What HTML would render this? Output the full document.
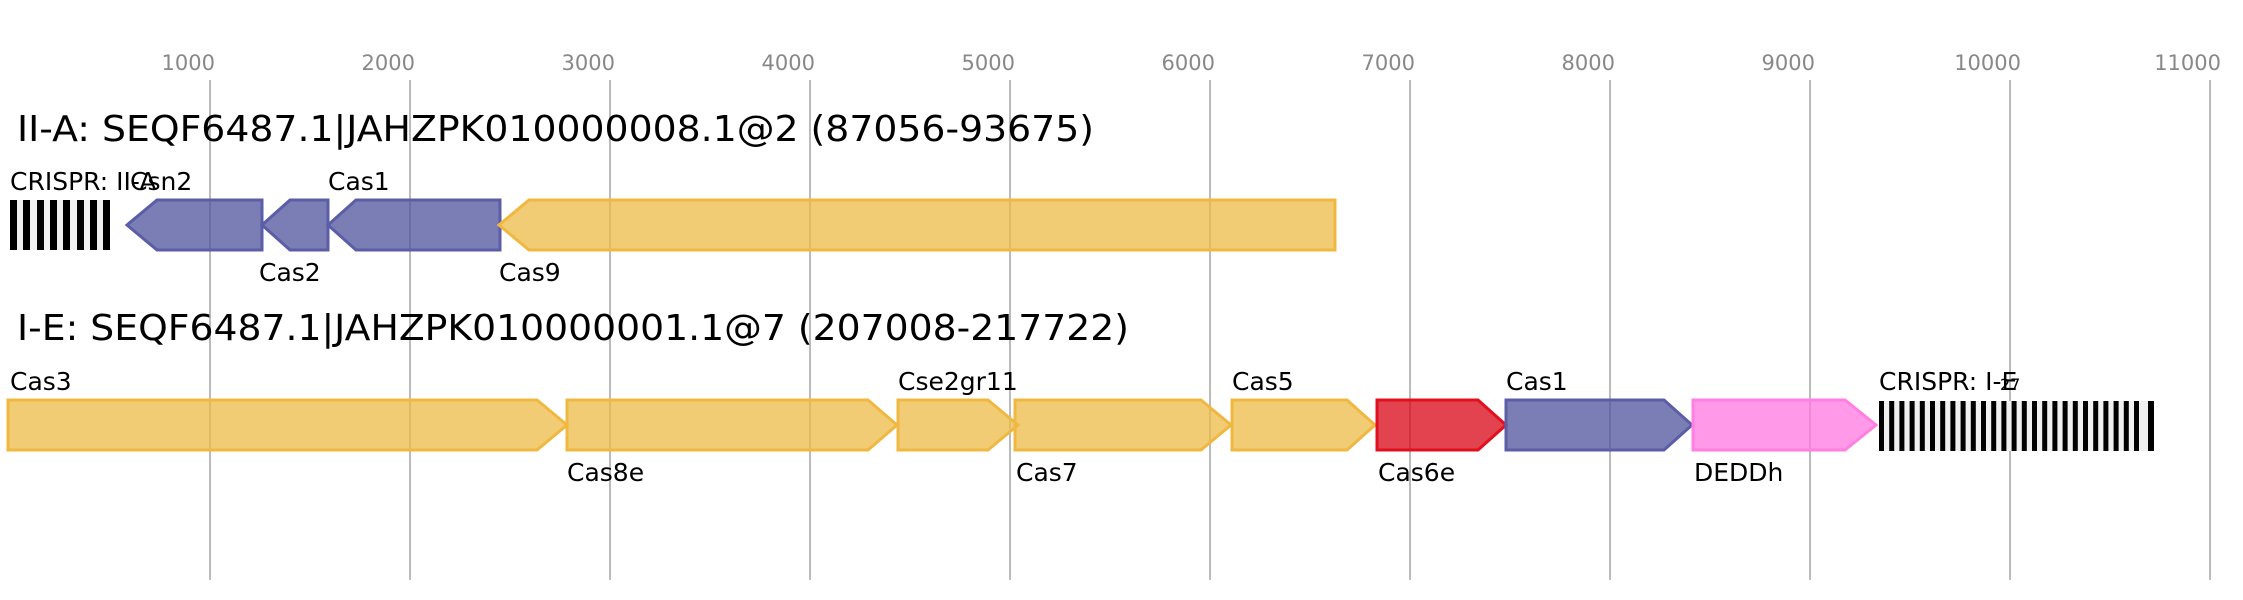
<!DOCTYPE html>
<html><head><meta charset="utf-8"><style>html,body{margin:0;padding:0;background:#fff}svg{display:block}</style></head>
<body>
<svg width="2243" height="600" viewBox="0 0 2243 600" xmlns="http://www.w3.org/2000/svg" font-family="'DejaVu Sans','Liberation Sans',sans-serif">
<g stroke="#bbb" stroke-width="2">
<line x1="210" y1="80" x2="210" y2="580"/><line x1="410" y1="80" x2="410" y2="580"/><line x1="610" y1="80" x2="610" y2="580"/><line x1="810" y1="80" x2="810" y2="580"/><line x1="1010" y1="80" x2="1010" y2="580"/><line x1="1210" y1="80" x2="1210" y2="580"/><line x1="1410" y1="80" x2="1410" y2="580"/><line x1="1610" y1="80" x2="1610" y2="580"/><line x1="1810" y1="80" x2="1810" y2="580"/><line x1="2010" y1="80" x2="2010" y2="580"/><line x1="2210" y1="80" x2="2210" y2="580"/>
</g>
<g fill="#888" font-size="21" text-anchor="end">
<text x="215" y="70">1000</text><text x="415" y="70">2000</text><text x="615" y="70">3000</text><text x="815" y="70">4000</text><text x="1015" y="70">5000</text><text x="1215" y="70">6000</text><text x="1415" y="70">7000</text><text x="1615" y="70">8000</text><text x="1815" y="70">9000</text><text x="2021" y="70">10000</text><text x="2221" y="70">11000</text>
</g>
<text x="17" y="141" font-size="36" textLength="1077" lengthAdjust="spacingAndGlyphs">II-A: SEQF6487.1|JAHZPK010000008.1@2 (87056-93675)</text>
<text x="17" y="340" font-size="36" textLength="1112" lengthAdjust="spacingAndGlyphs">I-E: SEQF6487.1|JAHZPK010000001.1@7 (207008-217722)</text>

<rect x="10" y="200" width="100" height="50" fill="#f0f0f0"/>
<g fill="#000">
<rect x="10" y="200" width="7" height="50"/><rect x="23" y="200" width="7" height="50"/><rect x="37" y="200" width="7" height="50"/><rect x="50" y="200" width="7" height="50"/><rect x="63" y="200" width="7" height="50"/><rect x="77" y="200" width="7" height="50"/><rect x="90" y="200" width="7" height="50"/><rect x="103" y="200" width="7" height="50"/>
</g>

<g stroke-width="3">
<polygon points="127,225 157,200 262,200 262,250 157,250" fill="#4f519c" fill-opacity="0.75" stroke="#5b5ea6"/>
<polygon points="262,225 290,200 328,200 328,250 290,250" fill="#4f519c" fill-opacity="0.75" stroke="#5b5ea6"/>
<polygon points="328,225 356,200 500,200 500,250 356,250" fill="#4f519c" fill-opacity="0.75" stroke="#5b5ea6"/>
<polygon points="499,225 529,200 1335,200 1335,250 529,250" fill="#ecbb45" fill-opacity="0.75" stroke="#f0b840"/>

<polygon points="8,400 537,400 567,425 537,450 8,450" fill="#ecbb45" fill-opacity="0.75" stroke="#f0b840"/>
<polygon points="567,400 868,400 897,425 868,450 567,450" fill="#ecbb45" fill-opacity="0.75" stroke="#f0b840"/>
<polygon points="898,400 988,400 1018,425 988,450 898,450" fill="#ecbb45" fill-opacity="0.75" stroke="#f0b840"/>
<polygon points="1015,400 1201,400 1231,425 1201,450 1015,450" fill="#ecbb45" fill-opacity="0.75" stroke="#f0b840"/>
<polygon points="1232,400 1347,400 1375,425 1347,450 1232,450" fill="#ecbb45" fill-opacity="0.75" stroke="#f0b840"/>
<polygon points="1377,400 1478,400 1506,425 1478,450 1377,450" fill="#d90414" fill-opacity="0.75" stroke="#e0101e"/>
<polygon points="1506,400 1664,400 1692,425 1664,450 1506,450" fill="#4f519c" fill-opacity="0.75" stroke="#5b5ea6"/>
<polygon points="1693,400 1845,400 1876,425 1845,450 1693,450" fill="#ff77e0" fill-opacity="0.75" stroke="#ff80e0"/>
</g>

<rect x="1879" y="401" width="275" height="50" fill="#f0f0f0"/>
<g fill="#000">
<rect x="1879" y="401" width="5" height="50"/><rect x="1889.2" y="401" width="5" height="50"/><rect x="1899.4" y="401" width="5" height="50"/><rect x="1909.6" y="401" width="5" height="50"/><rect x="1919.8" y="401" width="5" height="50"/><rect x="1930" y="401" width="5" height="50"/><rect x="1940.2" y="401" width="5" height="50"/><rect x="1950.4" y="401" width="5" height="50"/><rect x="1960.6" y="401" width="5" height="50"/><rect x="1970.8" y="401" width="5" height="50"/><rect x="1981" y="401" width="5" height="50"/><rect x="1991.2" y="401" width="5" height="50"/><rect x="2001.4" y="401" width="5" height="50"/><rect x="2011.6" y="401" width="5" height="50"/><rect x="2021.8" y="401" width="5" height="50"/><rect x="2032" y="401" width="5" height="50"/><rect x="2042.2" y="401" width="5" height="50"/><rect x="2052.4" y="401" width="5" height="50"/><rect x="2062.6" y="401" width="5" height="50"/><rect x="2072.8" y="401" width="5" height="50"/><rect x="2083" y="401" width="5" height="50"/><rect x="2093.2" y="401" width="5" height="50"/><rect x="2103.4" y="401" width="5" height="50"/><rect x="2113.6" y="401" width="5" height="50"/><rect x="2123.8" y="401" width="5" height="50"/><rect x="2134" y="401" width="5" height="50"/><rect x="2148" y="401" width="6" height="50"/>
</g>

<g fill="#000" font-size="25">
<text x="10" y="190">CRISPR: II-A</text>
<text x="130" y="190">Csn2</text>
<text x="259" y="281">Cas2</text>
<text x="328" y="190">Cas1</text>
<text x="499" y="281">Cas9</text>

<text x="10" y="390">Cas3</text>
<text x="567" y="481">Cas8e</text>
<text x="898" y="390">Cse2gr11</text>
<text x="1016" y="481">Cas7</text>
<text x="1232" y="390">Cas5</text>
<text x="1378" y="481">Cas6e</text>
<text x="1506" y="390">Cas1</text>
<text x="1694" y="481">DEDDh</text>
<text x="1879" y="390">CRISPR: I-E</text>
<text x="2000" y="390" font-size="16">27</text>
</g>
</svg>
</body></html>
